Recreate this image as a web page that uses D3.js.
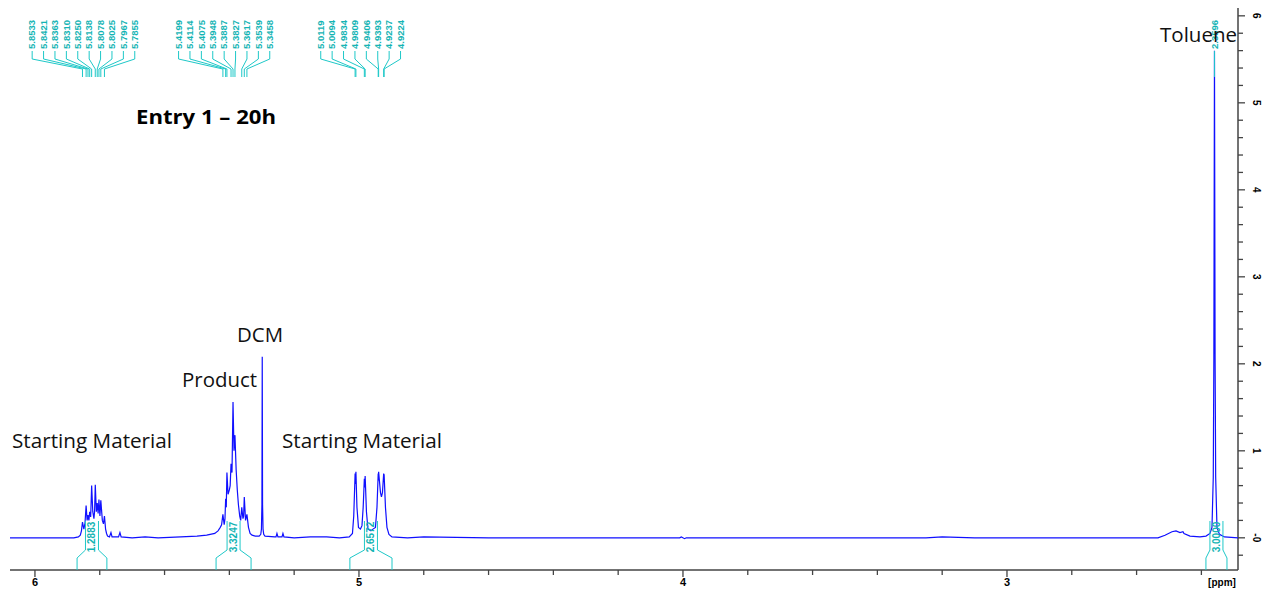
<!DOCTYPE html>
<html>
<head>
<meta charset="utf-8">
<script src="https://cdn.jsdelivr.net/npm/d3@7"></script>
<style>
  body { margin: 0; background: #fff; }
  svg { display: block; }
</style>
</head>
<body>
<svg id="chart" width="1262" height="590"></svg>
<script>
// spectrum, [ppm, intensity]
const spectrum = [
  [6.077, 0.00], [5.950, 0.00], [5.880, 0.00], [5.866, 0.01], [5.860, 0.03], [5.8565, 0.08],
  [5.8533, 0.18], [5.8490, 0.10], [5.8455, 0.17], [5.8421, 0.37], [5.8390, 0.20], [5.8363, 0.26],
  [5.8335, 0.20], [5.8310, 0.30], [5.8280, 0.24], [5.8250, 0.60], [5.8215, 0.30], [5.8180, 0.22],
  [5.8160, 0.30], [5.8138, 0.61], [5.8105, 0.30], [5.8078, 0.40], [5.8050, 0.28], [5.8025, 0.44],
  [5.7995, 0.25], [5.7967, 0.43], [5.7920, 0.20], [5.7885, 0.16], [5.7855, 0.25], [5.7820, 0.10],
  [5.7790, 0.05], [5.7760, 0.02], [5.7700, 0.01], [5.7654, 0.06], [5.7620, 0.01], [5.7420, 0.01],
  [5.7377, 0.06], [5.7340, 0.01], [5.700, 0.00], [5.660, 0.01], [5.620, 0.00], [5.550, 0.01],
  [5.500, 0.02], [5.470, 0.03], [5.445, 0.05], [5.435, 0.08], [5.428, 0.12], [5.4240, 0.15],
  [5.4199, 0.27], [5.4160, 0.15], [5.4135, 0.22], [5.4114, 0.45], [5.4095, 0.35], [5.4075, 0.75],
  [5.4040, 0.50], [5.4000, 0.55], [5.3975, 0.60], [5.3948, 0.85], [5.3918, 0.75], [5.3887, 1.56],
  [5.3857, 1.00], [5.3827, 1.18], [5.3790, 0.78], [5.3755, 0.55], [5.3720, 0.38], [5.3680, 0.25],
  [5.3650, 0.20], [5.3617, 0.35], [5.3580, 0.22], [5.3560, 0.25], [5.3539, 0.47], [5.3500, 0.20],
  [5.3458, 0.27], [5.3410, 0.12], [5.3360, 0.05], [5.3300, 0.03], [5.3200, 0.02], [5.3080, 0.02],
  [5.3030, 0.04], [5.3010, 0.10], [5.2995, 0.38], [5.2985, 2.08], [5.2975, 0.38], [5.2960, 0.10],
  [5.2940, 0.04], [5.2900, 0.02], [5.2600, 0.01], [5.2560, 0.01], [5.2531, 0.05], [5.2500, 0.01],
  [5.2375, 0.01], [5.2346, 0.05], [5.2315, 0.01], [5.200, 0.00], [5.150, 0.01], [5.100, 0.01],
  [5.060, 0.00], [5.0300, 0.01], [5.0201, 0.05], [5.0161, 0.25], [5.0119, 0.74], [5.0106, 0.62],
  [5.0094, 0.76], [5.0062, 0.35], [5.0015, 0.12], [4.9954, 0.10], [4.9907, 0.14], [4.9870, 0.35],
  [4.9834, 0.68], [4.9821, 0.58], [4.9809, 0.71], [4.9769, 0.30], [4.9722, 0.10], [4.9630, 0.08],
  [4.9568, 0.10], [4.9491, 0.12], [4.9444, 0.35], [4.9406, 0.74], [4.9400, 0.66], [4.9393, 0.76],
  [4.9336, 0.52], [4.9306, 0.47], [4.9275, 0.52], [4.9237, 0.74], [4.9231, 0.66], [4.9224, 0.73],
  [4.9182, 0.35], [4.9136, 0.12], [4.9074, 0.04], [4.8981, 0.01], [4.850, 0.00], [4.800, 0.01],
  [4.600, 0.00], [4.300, 0.00], [4.010, 0.00], [4.005, 0.01], [3.995, -0.01], [3.990, 0.00],
  [3.500, 0.00], [3.250, 0.00], [3.200, 0.01], [3.100, 0.00], [2.700, 0.00], [2.5340, 0.00],
  [2.5123, 0.03], [2.4907, 0.07], [2.4784, 0.08], [2.4660, 0.06], [2.4568, 0.07], [2.4537, 0.05],
  [2.4352, 0.02], [2.4043, 0.01], [2.3858, 0.02], [2.3735, 0.05], [2.3673, 0.12], [2.3633, 0.70],
  [2.3615, 2.07], [2.3596, 5.60], [2.3577, 2.07], [2.3559, 0.70], [2.3519, 0.12], [2.3442, 0.04],
  [2.3287, 0.01], [2.2870, 0.00]
];

// picked peaks, one list per label tree
const peaksSM1 = [5.8533, 5.8421, 5.8363, 5.8310, 5.8250, 5.8138, 5.8078, 5.8025, 5.7967, 5.7855];
const peaksProduct = [5.4199, 5.4114, 5.4075, 5.3948, 5.3887, 5.3827, 5.3617, 5.3539, 5.3458];
const peaksSM2 = [5.0119, 5.0094, 4.9834, 4.9809, 4.9406, 4.9393, 4.9237, 4.9224];
const peaksToluene = [2.3596];

// integral regions [from, to] and their values
const integralRanges = [[5.870, 5.778], [5.441, 5.333], [5.028, 4.898], [2.386, 2.321]];
const integralValues = ["1.2883", "3.3247", "2.6572", "3.0000"];

const xTicks = [6, 5, 4, 3];
const yTicks = [0, 1, 2, 3, 4, 5, 6];

const noteTexts = ["Starting Material", "Product", "DCM", "Starting Material", "Toluene"];
const titleText = "Entry 1 \u2013 20h";

const svg = d3.select("#chart");
const cyan = "#1ec8c8";
const axisColor = "#444";

const x = d3.scaleLinear().domain([6.077, 2.287]).range([10, 1238]);
const y = d3.scaleLinear().domain([-0.37, 6.09]).range([570, 8]);

// bottom axis
const minorX = d3.range(6.0, 2.39, -0.2).filter(v => !xTicks.some(t => Math.abs(t - v) < 1e-6));
const gx = svg.append("g").attr("transform", "translate(0,570)");
gx.append("line").attr("x1", 10).attr("x2", 1238)
  .attr("stroke", axisColor).attr("stroke-width", 1.5);
gx.selectAll("line.major").data(xTicks).enter().append("line")
  .attr("class", "major")
  .attr("x1", d => x(d)).attr("x2", d => x(d)).attr("y1", 0).attr("y2", 7)
  .attr("stroke", axisColor).attr("stroke-width", 1.3);
gx.selectAll("line.minor").data(minorX).enter().append("line")
  .attr("class", "minor")
  .attr("x1", d => x(d)).attr("x2", d => x(d)).attr("y1", 0).attr("y2", 5)
  .attr("stroke", axisColor).attr("stroke-width", 1.3);
gx.selectAll("text").data(xTicks).enter().append("text")
  .attr("x", d => x(d)).attr("y", 16)
  .attr("text-anchor", "middle")
  .style("font", "bold 11px 'Liberation Sans', Arial, sans-serif")
  .text(d => d);
gx.append("text").attr("x", 1222).attr("y", 16)
  .attr("text-anchor", "middle")
  .style("font", "bold 10px 'Liberation Sans', Arial, sans-serif")
  .text("[ppm]");

// right axis
const minorY = d3.range(-0.2, 6.01, 0.2).filter(v => !yTicks.some(t => Math.abs(t - v) < 1e-6));
const gy = svg.append("g").attr("transform", "translate(1238,0)");
gy.append("line").attr("y1", 8).attr("y2", 570)
  .attr("stroke", axisColor).attr("stroke-width", 1.5);
gy.selectAll("line.major").data(yTicks).enter().append("line")
  .attr("class", "major")
  .attr("y1", d => y(d)).attr("y2", d => y(d)).attr("x1", 0).attr("x2", 7)
  .attr("stroke", axisColor).attr("stroke-width", 1.3);
gy.selectAll("line.minor").data(minorY).enter().append("line")
  .attr("class", "minor")
  .attr("y1", d => y(d)).attr("y2", d => y(d)).attr("x1", 0).attr("x2", 5)
  .attr("stroke", axisColor).attr("stroke-width", 1.3);
gy.selectAll("text").data(yTicks).enter().append("text")
  .attr("transform", d => `translate(14,${y(d)}) rotate(90)`)
  .attr("text-anchor", "middle")
  .attr("dy", "-0.1em")
  .style("font", "bold 10px 'Liberation Sans', Arial, sans-serif")
  .text(d => d === 0 ? "-0" : d);

// spectrum
const line = d3.line()
  .x(d => x(d[0]))
  .y(d => y(d[1]));

svg.append("path")
  .datum(spectrum)
  .attr("fill", "none")
  .attr("stroke", "#1010ff")
  .attr("stroke-width", 1.2)
  .attr("d", line);

// integrals
const integ = svg.append("g");
integralRanges.forEach((r, i) => {
  const x1 = x(r[0]), x2 = x(r[1]), cx = (x1 + x2) / 2, hw = 6.5;
  const pts = [[x1, 570], [x1, 558], [cx - hw, 550], [cx - hw, 521]];
  const pts2 = [[x2, 570], [x2, 558], [cx + hw, 550], [cx + hw, 521]];
  [pts, pts2].forEach(p => integ.append("path")
    .attr("d", d3.line()(p))
    .attr("fill", "none").attr("stroke", cyan).attr("stroke-width", 1));
  integ.append("text")
    .attr("transform", `translate(${cx},537) rotate(-90)`)
    .attr("text-anchor", "middle").attr("dy", "0.35em")
    .attr("fill", "#14b4b4")
    .style("font", "bold 10px 'Liberation Sans', Arial, sans-serif")
    .text(integralValues[i]);
});

// peak label trees
const trees = svg.append("g");
[peaksSM1, peaksProduct, peaksSM2, peaksToluene].forEach(group => {
  const n = group.length, step = 11.4;
  const mid = d3.mean(group, p => x(p)) - (n > 1 ? 10 : 0);
  group.forEach((p, i) => {
    const lx = mid + (i - (n - 1) / 2) * step, px = x(p);
    trees.append("path")
      .attr("d", d3.line()([[lx, 51], [lx, 59], [px, 69], [px, 77]]))
      .attr("fill", "none").attr("stroke", cyan).attr("stroke-width", 1);
    trees.append("text")
      .attr("transform", `translate(${lx},49) rotate(-90)`)
      .attr("dy", "0.35em")
      .attr("fill", "#14b4b4")
      .style("font", "bold 9.5px 'Liberation Sans', Arial, sans-serif")
      .text(p.toFixed(4));
  });
});

// annotations
const noteFont = "19.5px 'Open Sans', sans-serif";
const notePos = [[12, 448], [182, 387], [237, 342], [282, 448], [1160, 42]];
const noteWidth = [160, 75, 46, 160, 77];
svg.selectAll("text.note").data(noteTexts).enter().append("text")
  .attr("class", "note")
  .attr("x", (d, i) => notePos[i][0]).attr("y", (d, i) => notePos[i][1])
  .attr("textLength", (d, i) => noteWidth[i])
  .attr("lengthAdjust", "spacingAndGlyphs")
  .style("font", noteFont)
  .attr("fill", "#111")
  .text(d => d);

svg.append("text")
  .attr("x", 136).attr("y", 124)
  .attr("textLength", 140)
  .attr("lengthAdjust", "spacingAndGlyphs")
  .style("font", "bold 19px 'Open Sans', sans-serif")
  .attr("fill", "#000")
  .text(titleText);
</script>
</body>
</html>
